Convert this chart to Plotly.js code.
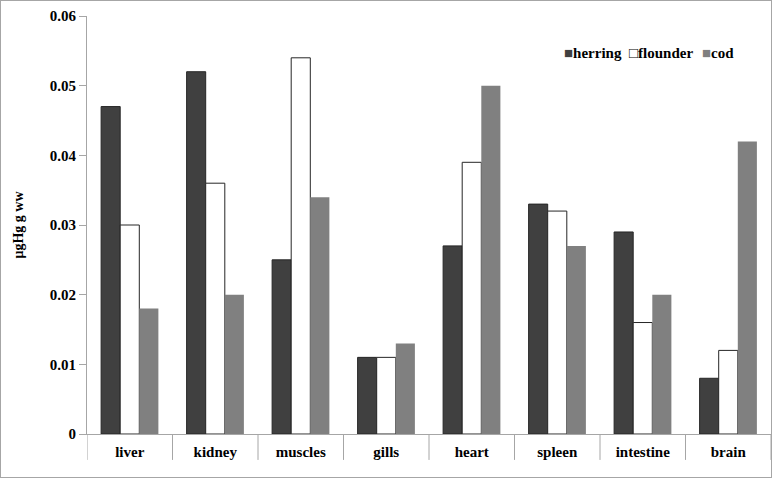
<!DOCTYPE html>
<html>
<head>
<meta charset="utf-8">
<script src="https://cdn.plot.ly/plotly-3.0.1.min.js"></script>
<style>
html,body{margin:0;padding:0;background:#fff;}
#wrap{position:relative;width:772px;height:478px;}
#wrap::after{content:'';position:absolute;left:0;top:0;right:0;bottom:0;border:1px solid #a6a6a6;pointer-events:none;}
#chart{width:772px;height:478px;}
</style>
</head>
<body>
<div id="wrap"><div id="chart"></div></div>
<script>
const categories = ['liver','kidney','muscles','gills','heart','spleen','intestine','brain'];
const herring  = [0.047, 0.052, 0.025, 0.011, 0.027, 0.033, 0.029, 0.008];
const flounder = [0.030, 0.036, 0.054, 0.011, 0.039, 0.032, 0.016, 0.012];
const cod      = [0.018, 0.020, 0.034, 0.013, 0.050, 0.027, 0.020, 0.042];
const seriesNames = ['herring','flounder','cod'];
const seriesColors = ['#404040','#ffffff','#808080'];
const yTicks = [0, 0.01, 0.02, 0.03, 0.04, 0.05, 0.06];
const yTickText = ['0','0.01','0.02','0.03','0.04','0.05','0.06'];

const FONT = "'Liberation Serif', 'Times New Roman', serif";
const idx = categories.map((c,i)=>i);

const traces = [
  {type:'bar', name:seriesNames[0], x:idx, y:herring,
   marker:{color:seriesColors[0], line:{color:'#262626', width:1}}},
  {type:'bar', name:seriesNames[1], x:idx, y:flounder,
   marker:{color:seriesColors[1], line:{color:'#262626', width:1}}},
  {type:'bar', name:seriesNames[2], x:idx, y:cod,
   marker:{color:seriesColors[2], line:{color:seriesColors[2], width:0}}}
];

const shapes = [];
for (let i = 0; i <= categories.length; i++) {
  shapes.push({type:'line', xref:'x', yref:'paper', x0:i-0.5, x1:i-0.5, y0:0, y1:-0.062,
    line:{color:'#a6a6a6', width:1}});
}

const legendX = [0.694, 0.789, 0.896];
const legendSym = ['<span style="color:#404040">■</span>', '□', '<span style="color:#808080">■</span>'];
const annotations = seriesNames.map((n,i)=>({
  xref:'paper', yref:'paper', x:legendX[i], y:0.912, xanchor:'left', yanchor:'middle', showarrow:false,
  font:{family:FONT, size:15, color:'#000', weight:'bold'},
  text: legendSym[i] + n
}));

const layout = {
  width:772, height:478,
  margin:{l:87, r:1, t:16, b:44},
  paper_bgcolor:'rgba(0,0,0,0)', plot_bgcolor:'#fff',
  showlegend:false,
  barmode:'group', bargap:0.33, bargroupgap:0,
  font:{family:FONT, size:15, color:'#000'},
  xaxis:{
    range:[-0.5, categories.length-0.5],
    tickvals:idx, ticktext:categories,
    showgrid:false, zeroline:false,
    showline:true, linecolor:'#a6a6a6', linewidth:1,
    ticks:'', ticklabelstandoff:4,
    tickfont:{family:FONT, size:15, color:'#000', weight:'bold'}
  },
  yaxis:{
    range:[0, 0.06],
    tickvals:yTicks, ticktext:yTickText,
    showgrid:false, zeroline:false,
    showline:true, linecolor:'#a6a6a6', linewidth:1,
    ticks:'outside', ticklen:7, tickcolor:'#a6a6a6',
    tickfont:{family:FONT, size:15, color:'#000', weight:'bold'},
    title:{text:'μgHg g ww', standoff:22, font:{family:FONT, size:14, color:'#000', weight:'bold'}}
  },
  shapes:shapes,
  annotations:annotations
};

Plotly.newPlot('chart', traces, layout, {displayModeBar:false, staticPlot:true});
</script>
</body>
</html>
